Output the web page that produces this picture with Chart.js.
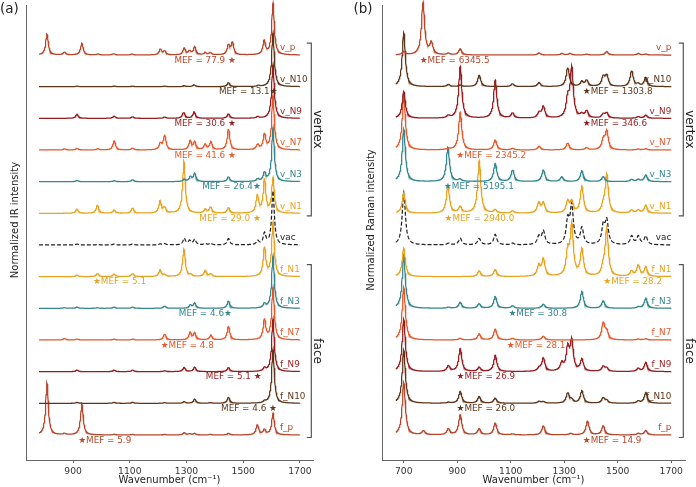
<!DOCTYPE html>
<html lang="en">
<head>
<meta charset="UTF-8">
<title>IR and Raman spectra, vertex vs face</title>
<script src="https://cdn.jsdelivr.net/npm/chart.js"></script>
<style>
  body { margin: 0; background: #fff; }
  #wrap { position: relative; width: 696px; height: 487px; }
  #irChart { position: absolute; left: 0; top: 0; }
  #ramanChart { position: absolute; left: 345px; top: 0; }
</style>
</head>
<body>
<div id="wrap">
  <canvas id="irChart" width="345" height="487"></canvas>
  <canvas id="ramanChart" width="351" height="487"></canvas>
</div>
<script>
const FONT = "'DejaVu Sans', sans-serif";

// spectra from top to bottom
const spectrumNames = ['v_p', 'v_N10', 'v_N9', 'v_N7', 'v_N3', 'v_N1', 'vac', 'f_N1', 'f_N3', 'f_N7', 'f_N9', 'f_N10', 'f_p'];
const spectrumColors = ['#b5462b', '#5e3518', '#951c1f', '#e4582a', '#34868f', '#e8a31f', '#222222',
                        '#e8a31f', '#34868f', '#e4582a', '#951c1f', '#5e3518', '#b5462b'];

// IR peaks: [wavenumber, height], height in units of the stacking offset
const irVp   = [[808,0.66],[870,0.09],[931,0.37],[988,0.03],[1043,0.04],[1108,0.03],[1208,0.18],[1223,0.12],[1292,0.21],[1311,0.12],[1329,0.25],[1366,0.07],[1384,0.07],[1448,0.3],[1462,0.38],[1574,0.43],[1605,1.63]];
const irVN10 = [[914,0.02],[1045,0.02],[1110,0.02],[1223,0.02],[1292,0.03],[1327,0.06],[1448,0.13],[1554,0.03],[1605,1.7]];
const irVN9  = [[914,0.13],[1045,0.07],[1110,0.05],[1223,0.04],[1290,0.19],[1327,0.2],[1448,0.14],[1551,0.05],[1605,1.7]];
const irVN7  = [[870,0.04],[914,0.05],[988,0.04],[1045,0.29],[1110,0.06],[1208,0.2],[1223,0.46],[1313,0.28],[1329,0.24],[1366,0.17],[1386,0.25],[1448,0.66],[1551,0.16],[1575,0.48],[1605,1.7]];
const irVN3  = [[914,0.04],[1045,0.03],[1110,0.06],[1292,0.07],[1314,0.15],[1329,0.25],[1448,0.15],[1551,0.08],[1575,0.27],[1605,1.7]];
const irVN1  = [[914,0.13],[986,0.26],[1045,0.1],[1110,0.17],[1207,0.38],[1223,0.17],[1291,1.65],[1366,0.12],[1385,0.2],[1448,0.18],[1550,0.55],[1575,1.05],[1605,1.1]];
const irVac  = [[914,0.03],[987,0.02],[1045,0.03],[1110,0.03],[1207,0.03],[1223,0.04],[1292,0.2],[1311,0.13],[1329,0.17],[1366,0.04],[1385,0.05],[1448,0.2],[1551,0.12],[1575,0.35],[1605,1.7]];
const irFN1  = [[914,0.05],[986,0.1],[1045,0.08],[1110,0.1],[1207,0.21],[1223,0.06],[1291,0.87],[1316,0.05],[1366,0.19],[1386,0.08],[1575,0.9],[1605,1.7]];
const irFN3  = [[870,0.02],[914,0.04],[986,0.02],[1045,0.04],[1110,0.04],[1223,0.07],[1314,0.1],[1329,0.16],[1448,0.23],[1575,0.13],[1605,1.66]];
const irFN7  = [[870,0.05],[914,0.03],[1045,0.03],[1110,0.03],[1223,0.19],[1313,0.23],[1329,0.21],[1386,0.15],[1448,0.43],[1575,0.63],[1605,1.65]];
const irFN9  = [[914,0.05],[1045,0.05],[1110,0.05],[1223,0.03],[1292,0.13],[1329,0.14],[1448,0.13],[1575,0.1],[1605,1.66]];
const irFN10 = [[914,0.03],[1045,0.03],[1110,0.03],[1223,0.02],[1292,0.05],[1329,0.13],[1384,0.02],[1448,0.19],[1575,0.05],[1605,1.7]];
const irFp   = [[808,1.65],[870,0.04],[931,0.98],[1045,0.02],[1110,0.02],[1223,0.02],[1292,0.07],[1311,0.04],[1329,0.05],[1384,0.02],[1448,0.05],[1550,0.32],[1575,0.16],[1605,0.68]];

const irMefText = ['MEF = 77.9 ★', 'MEF = 13.1★', 'MEF = 30.6 ★', 'MEF = 41.6 ★', 'MEF = 26.4★', 'MEF = 29.0 ★', '',
                   '★MEF = 5.1', 'MEF = 4.6★', '★MEF = 4.8', 'MEF = 5.1 ★', 'MEF = 4.6 ★', '★MEF = 5.9'];
const irMefAt = [1460, 1607, 1460, 1460, 1548, 1548, null, 984, 1446, 1223, 1551, 1605, 932];

// Raman peaks
const ramanVp   = [[700,0.1],[772,1.65],[803,0.37],[867,0.05],[911,0.19],[1206,0.07],[1291,0.05],[1322,0.05],[1384,0.03],[1459,0.11],[1577,0.05],[1605,0.03]];
const ramanVN10 = [[700,1.7],[867,0.07],[911,0.05],[982,0.36],[1107,0.09],[1206,0.13],[1313,0.6],[1366,0.15],[1384,0.19],[1446,0.3],[1459,0.33],[1552,0.5],[1577,0.07],[1605,0.28]];
const ramanVN9  = [[700,0.85],[867,0.07],[911,1.63],[1042,1.2],[1107,0.16],[1206,0.16],[1222,0.36],[1313,0.56],[1328,1.55],[1366,0.1],[1384,0.22],[1446,0.12],[1459,0.16],[1577,0.05],[1605,0.1]];
const ramanVN7  = [[700,1.72],[867,0.04],[911,1.19],[1042,0.31],[1107,0.05],[1206,0.12],[1313,0.22],[1384,0.07],[1446,0.3],[1459,0.57],[1577,0.03],[1605,0.04]];
const ramanVN3  = [[700,1.66],[865,1.08],[911,0.07],[1042,0.57],[1107,0.37],[1222,0.37],[1291,0.15],[1366,0.34],[1446,0.16],[1552,0.07],[1577,0.07],[1605,0.21]];
const ramanVN1  = [[700,0.64],[865,0.85],[911,0.2],[982,1.66],[1042,0.1],[1107,0.07],[1205,0.32],[1222,0.32],[1313,0.36],[1328,0.34],[1366,0.84],[1446,0.2],[1459,1.2],[1552,0.1],[1577,0.1],[1605,0.25]];
const ramanVac  = [[700,1.68],[867,0.05],[911,0.21],[982,0.2],[1042,0.33],[1107,0.05],[1205,0.25],[1222,0.42],[1313,0.72],[1328,1.2],[1366,0.52],[1446,0.58],[1459,0.72],[1552,0.27],[1577,0.26],[1605,0.27]];
const ramanFN1  = [[700,0.9],[982,0.18],[1042,0.22],[1205,0.33],[1222,0.54],[1313,0.72],[1328,1.56],[1366,0.83],[1446,0.25],[1459,1.48],[1552,0.16],[1577,0.35],[1605,0.29]];
const ramanFN3  = [[700,1.66],[867,0.03],[911,0.19],[982,0.14],[1042,0.37],[1107,0.08],[1222,0.13],[1366,0.53],[1446,0.24],[1577,0.04],[1605,0.32]];
const ramanFN7  = [[700,1.66],[911,0.05],[982,0.19],[1042,0.34],[1107,0.05],[1222,0.12],[1446,0.53],[1459,0.24],[1577,0.03],[1605,0.04]];
const ramanFN9  = [[700,1.65],[867,0.18],[911,0.72],[982,0.13],[1042,0.51],[1206,0.1],[1222,0.42],[1291,0.24],[1313,0.7],[1328,0.92],[1366,0.37],[1446,0.16],[1459,0.1],[1577,0.1],[1605,0.29]];
const ramanFN10 = [[700,1.68],[867,0.03],[911,0.37],[982,0.21],[1042,0.16],[1206,0.06],[1222,0.05],[1313,0.32],[1328,0.1],[1366,0.39],[1446,0.17],[1459,0.08],[1577,0.07],[1605,0.34]];
const ramanFp   = [[700,1.65],[774,0.13],[867,0.19],[911,0.63],[982,0.19],[1042,0.37],[1107,0.03],[1222,0.29],[1324,0.05],[1387,0.44],[1446,0.29],[1577,0.05],[1605,0.14]];

const ramanMefText = ['★MEF = 6345.5', '★MEF = 1303.8', '★MEF = 346.6', '★MEF = 2345.2', '★MEF = 5195.1', '★MEF = 2940.0', '',
                      '★MEF = 28.2', '★MEF = 30.8', '★MEF = 28.1', '★MEF = 26.9', '★MEF = 26.0', '★MEF = 14.9'];
const ramanMefAt = [774, 1384, 1384, 911, 865, 867, null, 1461, 1106, 1100, 912, 912, 1384];

const irRange = [780, 1700];
const ramanRange = [670, 1700];
const irTicks = [900, 1100, 1300, 1500, 1700];
const ramanTicks = [700, 900, 1100, 1300, 1500, 1700];

// Lorentzian line shapes on a 1 cm-1 grid, shifted by the stacking offset
function spectrum(peaks, from, to, hwhm, offset) {
  const pts = [];
  for (let x = from; x <= to; x++) {
    let y = offset;
    for (const [c, h] of peaks) {
      const d = (x - c) / hwhm;
      y += h / (1 + d * d);
    }
    pts.push({x: x, y: y});
  }
  return pts;
}

function annotations(cfg) {
  return {
    id: 'annotations',
    afterDatasetsDraw(chart) {
      const {ctx, chartArea: area, scales: {x, y}} = chart;
      const n = spectrumNames.length;
      ctx.save();
      ctx.textBaseline = 'middle';
      ctx.font = '8.8px ' + FONT;
      const starW = ctx.measureText('★').width;
      spectrumNames.forEach((name, i) => {
        const base = y.getPixelForValue(n - 1 - i);
        ctx.fillStyle = spectrumColors[i];
        ctx.textAlign = cfg.nameAlign;
        ctx.fillText(name, x.getPixelForValue(cfg.nameAt), base - 7);
        if (cfg.mefAt[i] == null) return;
        const sx = x.getPixelForValue(cfg.mefAt[i]);
        const txt = cfg.mefText[i];
        if (txt.startsWith('★')) {
          ctx.textAlign = 'left';
          ctx.fillText(txt, sx - starW / 2, base + 5.5);
        } else {
          ctx.textAlign = 'right';
          ctx.fillText(txt, sx + starW / 2, base + 5.5);
        }
      });

      // vertex / face brackets
      const groups = [['vertex', 0, 5], ['face', 7, 12]];
      const bx = area.right - 1.7;
      ctx.strokeStyle = '#555';
      ctx.lineWidth = 1.2;
      ctx.fillStyle = '#222';
      ctx.font = '12px ' + FONT;
      ctx.textAlign = 'center';
      groups.forEach(([label, a, b]) => {
        const top = y.getPixelForValue(n - 1 - a) - 12;
        const bot = y.getPixelForValue(n - 1 - b) + 2.5;
        ctx.beginPath();
        ctx.moveTo(bx - 4.5, top);
        ctx.lineTo(bx, top);
        ctx.lineTo(bx, bot);
        ctx.lineTo(bx - 4.5, bot);
        ctx.stroke();
        ctx.save();
        ctx.translate(area.right + 4.5, (top + bot) / 2);
        ctx.rotate(Math.PI / 2);
        ctx.fillText(label, 0, 0);
        ctx.restore();
      });

      // y axis title and panel letter
      ctx.font = '10px ' + FONT;
      ctx.save();
      ctx.translate(cfg.yTitleX, 220);
      ctx.rotate(-Math.PI / 2);
      ctx.fillText(cfg.yTitle, 0, 0);
      ctx.restore();
      ctx.font = '13.5px ' + FONT;
      ctx.textAlign = 'left';
      ctx.fillText(cfg.panel, cfg.panelX, 9);
      ctx.restore();
    }
  };
}

function makePanel(canvasId, cfg) {
  const n = spectrumNames.length;
  const span = cfg.range[1] - cfg.range[0];
  const datasets = cfg.peaks.map((pk, i) => ({
    label: spectrumNames[i],
    data: spectrum(pk, cfg.range[0], cfg.range[1], cfg.hwhm, n - 1 - i),
    borderColor: spectrumColors[i],
    borderWidth: 1.25,
    borderDash: spectrumNames[i] === 'vac' ? [4, 2] : [],
    pointRadius: 0,
    tension: 0,
    clip: false
  }));

  new Chart(document.getElementById(canvasId), {
    type: 'line',
    data: {datasets: datasets},
    options: {
      responsive: false,
      animation: false,
      devicePixelRatio: 1,
      events: [],
      layout: {padding: cfg.padding},
      plugins: {legend: {display: false}, tooltip: {enabled: false}},
      scales: {
        x: {
          type: 'linear',
          bounds: 'data',
          min: cfg.range[0] - 0.05 * span,
          max: cfg.range[1] + 0.05 * span,
          afterBuildTicks: axis => { axis.ticks = cfg.ticks.map(v => ({value: v})); },
          afterFit: axis => { axis.height = 27; },
          grid: {drawOnChartArea: false, drawTicks: true, tickLength: 3, color: '#666'},
          border: {display: true, color: '#666', width: 1},
          ticks: {font: {family: FONT, size: 9.2}, color: '#333', padding: 3, maxRotation: 0, autoSkip: false,
                  callback: v => String(v)},
          title: {display: true, text: 'Wavenumber (cm⁻¹)', color: '#222',
                  font: {family: FONT, size: 10}, padding: {top: 0, bottom: 1}}
        },
        y: {
          type: 'linear',
          bounds: 'data',
          min: -0.79,
          max: n - 1 + 1.58,
          afterFit: axis => { axis.width = 0; },
          grid: {drawOnChartArea: false, drawTicks: false},
          border: {display: true, color: '#666', width: 1},
          ticks: {display: false}
        }
      }
    },
    plugins: [annotations(cfg)]
  });
}

makePanel('irChart', {
  peaks: [irVp, irVN10, irVN9, irVN7, irVN3, irVN1, irVac, irFN1, irFN3, irFN7, irFN9, irFN10, irFp],
  range: irRange, ticks: irTicks, hwhm: 5.5,
  mefText: irMefText, mefAt: irMefAt,
  nameAt: 1630, nameAlign: 'left',
  yTitle: 'Normalized IR intensity', yTitleX: 15,
  panel: '(a)', panelX: 0,
  padding: {left: 26, right: 32, top: 5, bottom: 0}
});

makePanel('ramanChart', {
  peaks: [ramanVp, ramanVN10, ramanVN9, ramanVN7, ramanVN3, ramanVN1, ramanVac, ramanFN1, ramanFN3, ramanFN7, ramanFN9, ramanFN10, ramanFp],
  range: ramanRange, ticks: ramanTicks, hwhm: 7,
  mefText: ramanMefText, mefAt: ramanMefAt,
  nameAt: 1700, nameAlign: 'right',
  yTitle: 'Normalized Raman intensity', yTitleX: 26,
  panel: '(b)', panelX: 8.5,
  padding: {left: 37, right: 11, top: 5, bottom: 0}
});
</script>
</body>
</html>
